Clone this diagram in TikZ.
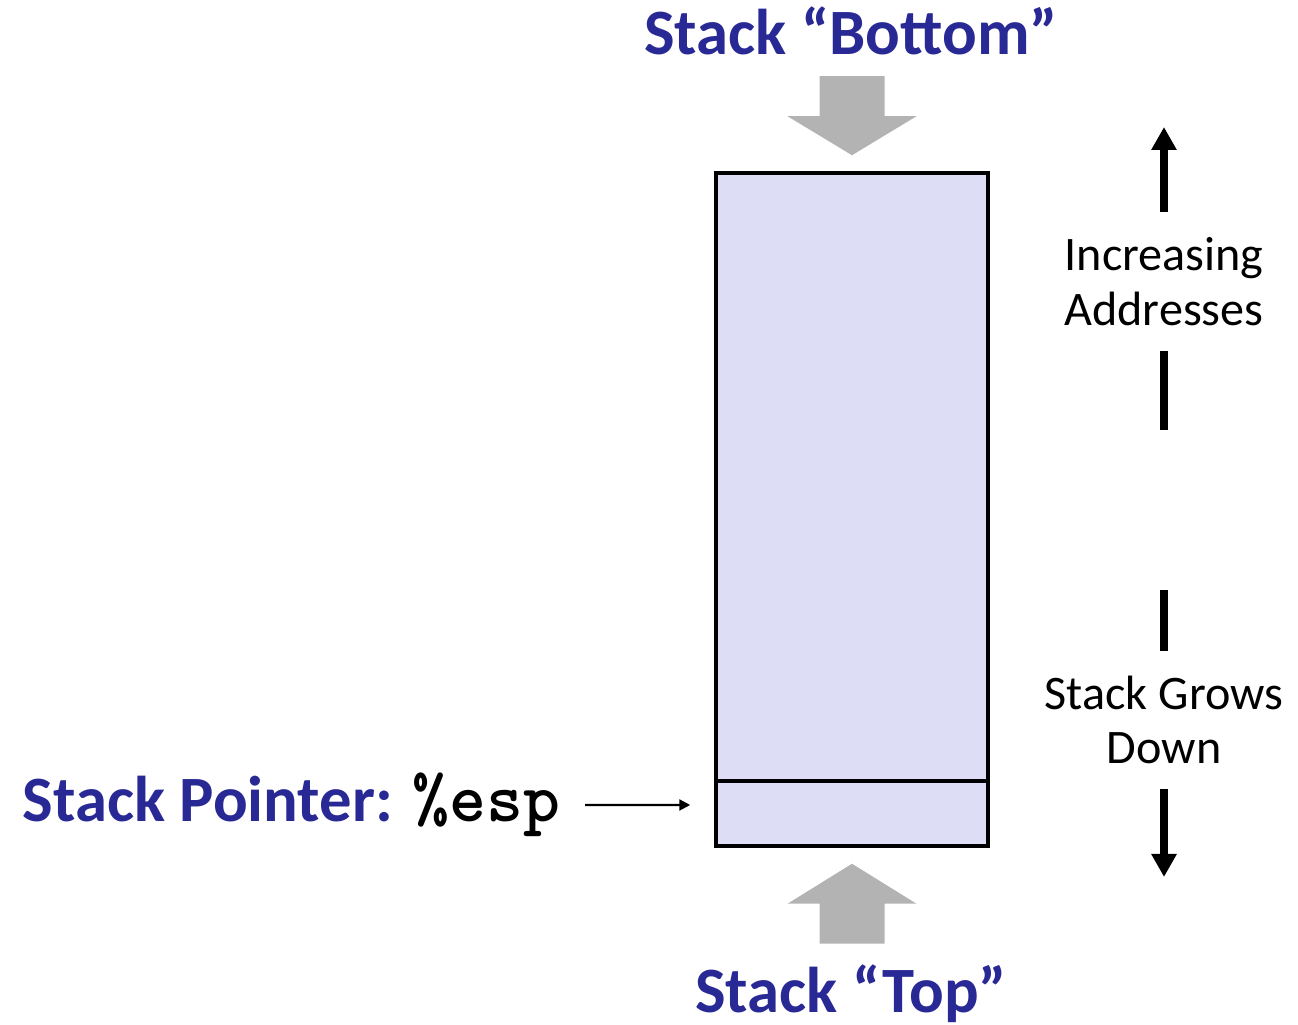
\documentclass[tikz,border=0pt]{standalone}
\usepackage{fontspec}
\setmainfont{Carlito}
\usetikzlibrary{positioning, calc, arrows.meta}
\definecolor{colorTitle}{RGB}{41, 41, 150}
\definecolor{colorStack}{RGB}{221, 221, 245}
\definecolor{colorBlock}{RGB}{179, 179, 179}
\tikzstyle{stackbox} = [rectangle, minimum width=2.72cm, minimum height=6.73cm, draw=black, line width=0.35mm, fill=colorStack]
\tikzstyle{slot} = [rectangle, minimum width=2.72cm, minimum height=0.65cm, draw=black, line width=0.35mm]
\tikzstyle{heading} = [inner sep=0, text=colorTitle, font=\fontsize{18.4}{21}\selectfont\bfseries]
\tikzstyle{side} = [inner sep=0, align=center, font=\fontsize{13.7}{15.6}\selectfont]
\tikzstyle{arrow} = [line width=0.8mm, -{Triangle[width=2.4mm, length=2.3mm]}]
\tikzstyle{stem} = [line width=0.8mm]
\tikzstyle{ptrarrow} = [line width=0.22mm, -{Triangle[width=1.1mm, length=1.1mm]}]
\tikzstyle{blockarrow} = [fill=colorBlock]
\newcommand{\regname}[1]{{\color{black}\fontsize{20}{22}\ttfamily\addfontfeatures{FakeBold=2.5}#1}}

\begin{document}
\begin{tikzpicture}
	\useasboundingbox (0,0) rectangle (12.98,10.25);

	% the stack and its top slot
	\node (stack)[stackbox] at (8.52,5.155) {};
	\node (espSlot)[slot, anchor=south] at (stack.south) {};

	% labels
	\node (bottomLabel)[heading, anchor=base] at (8.51,9.70) {Stack “Bottom”};
	\node (topLabel)[heading, anchor=base] at (8.51,0.12) {Stack “Top”};
	\node (espLabel)[heading, anchor=base west] at (0.22,2.03) {Stack Pointer: \regname{\%esp}};

	\node (incAddr)[side, minimum height=1.37cm] at (11.64,7.435) {Increasing\\Addresses};
	\node (growsDown)[side, minimum height=1.36cm] at (11.64,3.05) {Stack Grows\\Down};

	% free ends
	\coordinate (upTip) at (11.64,8.98);
	\coordinate (upTail) at (11.64,5.95);
	\coordinate (downTail) at (11.64,4.35);
	\coordinate (downTip) at (11.64,1.48);
	\coordinate (ptrStart) at (5.85,2.20);
	\coordinate (ptrEnd) at ($(espSlot.west)+(-0.24,0.085)$);

	% gray block arrows
	\fill[blockarrow] ($(stack.north)+(0,0.16)$) -- ++(0.645,0.39) -- ++(-0.32,0) -- ++(0,0.40)
		-- ++(-0.65,0) -- ++(0,-0.40) -- ++(-0.32,0) -- cycle;
	\fill[blockarrow] ($(stack.south)+(0,-0.16)$) -- ++(0.645,-0.40) -- ++(-0.32,0) -- ++(0,-0.40)
		-- ++(-0.65,0) -- ++(0,0.40) -- ++(-0.32,0) -- cycle;

	% lines and arrows
	\draw[arrow] (incAddr.north) -- (upTip);
	\draw[stem] (incAddr.south) -- (upTail);
	\draw[stem] (downTail) -- (growsDown.north);
	\draw[arrow] (growsDown.south) -- (downTip);
	\draw[ptrarrow] (ptrStart) -- (ptrEnd);

\end{tikzpicture}
\end{document}
